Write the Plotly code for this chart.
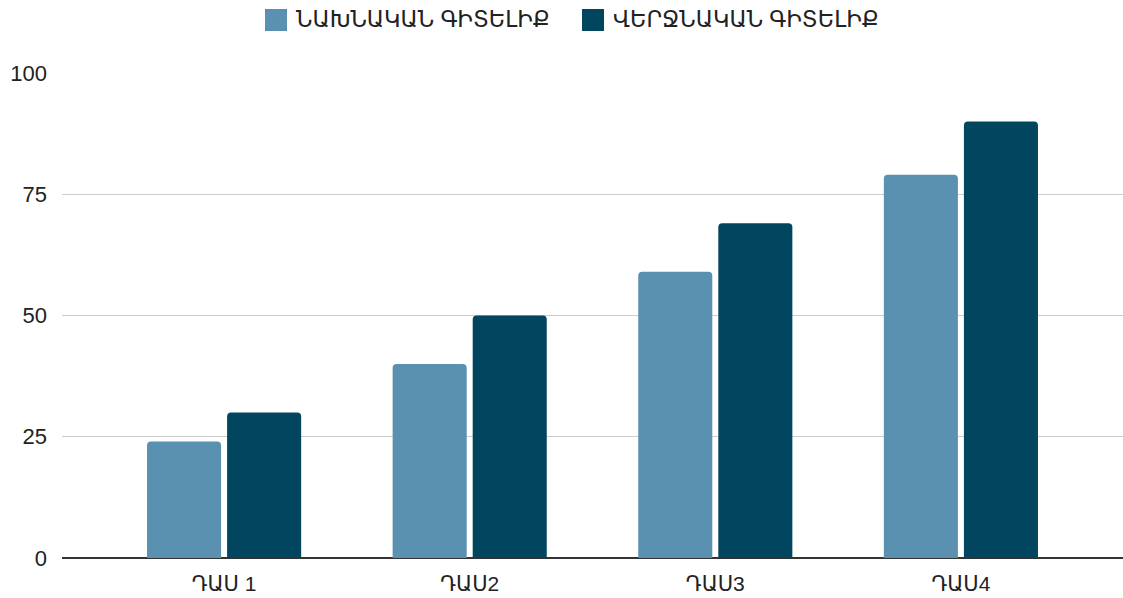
import plotly.graph_objects as go

categories = ["ԴԱՍ 1", "ԴԱՍ2", "ԴԱՍ3", "ԴԱՍ4"]
series_names = ["ՆԱԽՆԱԿԱՆ ԳԻՏԵԼԻՔ", "ՎԵՐՋՆԱԿԱՆ ԳԻՏԵԼԻՔ"]
initial_knowledge = [24, 40, 59, 79]
final_knowledge = [30, 50, 69, 90]
y_ticks = [0, 25, 50, 75, 100]

light = "#5a91b0"
dark = "#02455f"
colors = [light, dark]
font_family = "Liberation Sans, Arial, DejaVu Sans, sans-serif"

W, H = 1123, 598
ML, MR, MT, MB = 62, 0, 73, 40

fig = go.Figure()
fig.add_trace(go.Bar(x=categories, y=initial_knowledge, name=series_names[0], showlegend=False,
                     marker=dict(color=light, cornerradius=4, line=dict(width=0))))
fig.add_trace(go.Bar(x=categories, y=final_knowledge, name=series_names[1], showlegend=False,
                     marker=dict(color=dark, cornerradius=4, line=dict(width=0))))

# manual legend (large squares + labels) placed in the top margin
def px_to_paper_x(px):
    return (px - ML) / (W - ML - MR)

def px_to_paper_y(py):
    return (H - MB - py) / (H - MT - MB)

legend_square_left = [265, 582]
sq = 22
cy = 20
for nm, col, left in zip(series_names, colors, legend_square_left):
    fig.add_shape(type="rect", xref="paper", yref="paper",
                  x0=px_to_paper_x(left), x1=px_to_paper_x(left + sq),
                  y0=px_to_paper_y(cy + sq / 2), y1=px_to_paper_y(cy - sq / 2),
                  fillcolor=col, line=dict(width=0), layer="above")
    fig.add_annotation(xref="paper", yref="paper", x=px_to_paper_x(left + sq + 7),
                       y=px_to_paper_y(cy), xanchor="left", yanchor="middle",
                       text=nm, showarrow=False,
                       font=dict(size=22.5, color="#222222", family=font_family))

fig.update_layout(
    width=W, height=H,
    margin=dict(l=ML, r=MR, t=MT, b=MB, autoexpand=False),
    paper_bgcolor="white", plot_bgcolor="white",
    barmode="group", bargap=0.348, bargroupgap=0.075,
    font=dict(family=font_family, size=22, color="#222222"),
    showlegend=False,
)
fig.update_xaxes(range=[-0.66, 3.66], showgrid=False, showline=False, ticks="",
                 tickfont=dict(size=21, color="#222222"), ticklabelstandoff=11)
fig.update_yaxes(range=[0, 100], tickvals=y_ticks, showgrid=True, gridcolor="#cccccc",
                 gridwidth=1.3, zeroline=True, zerolinecolor="#333333", zerolinewidth=1.5,
                 showline=False, ticks="", tickfont=dict(size=22, color="#222222"),
                 ticklabelstandoff=14)

fig.write_html("out.html", config={"displayModeBar": False},
               post_script="document.body.style.margin='0';")
